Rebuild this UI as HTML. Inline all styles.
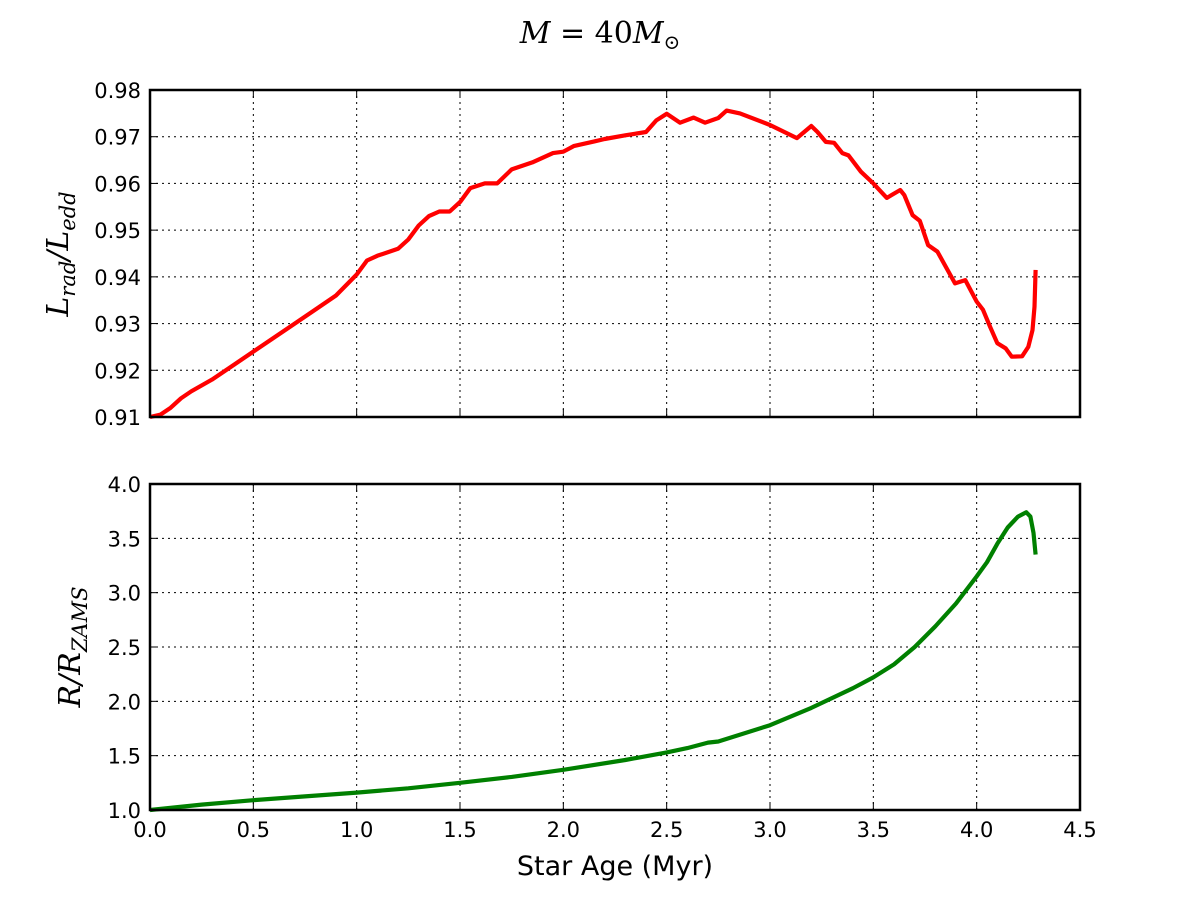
<!DOCTYPE html>
<html><head><meta charset="utf-8"><style>
body{margin:0;background:#fff}
svg text{font-family:"DejaVu Sans","Liberation Sans",sans-serif}
.m{font-family:"DejaVu Serif","Liberation Serif",serif;font-style:italic}
</style></head><body>
<svg id="c" width="1200" height="900"></svg>
<script>
const topAge=[0,0.05,0.1,0.15,0.2,0.3,0.4,0.5,0.6,0.7,0.8,0.9,1.0,1.05,1.1,1.2,1.25,1.3,1.35,1.4,1.45,1.5,1.55,1.62,1.68,1.75,1.85,1.95,2.0,2.05,2.15,2.2,2.3,2.4,2.45,2.5,2.565,2.63,2.686,2.75,2.79,2.855,3.0,3.13,3.2,3.23,3.27,3.31,3.35,3.38,3.44,3.5,3.565,3.63,3.65,3.69,3.725,3.765,3.81,3.85,3.895,3.945,4.0,4.03,4.065,4.1,4.14,4.17,4.22,4.25,4.27,4.28,4.285];
const topLum=[0.910,0.9105,0.912,0.914,0.9155,0.918,0.921,0.924,0.927,0.930,0.933,0.936,0.9405,0.9435,0.9445,0.946,0.948,0.951,0.953,0.954,0.954,0.956,0.959,0.960,0.960,0.963,0.9645,0.9665,0.9668,0.968,0.969,0.9695,0.9703,0.971,0.9735,0.9749,0.973,0.9741,0.973,0.974,0.9756,0.975,0.9725,0.9697,0.9723,0.971,0.9689,0.9687,0.9665,0.966,0.9625,0.960,0.9569,0.9586,0.9575,0.9532,0.952,0.9468,0.9454,0.9422,0.9386,0.9393,0.9347,0.933,0.9293,0.9258,0.9247,0.9229,0.923,0.925,0.9286,0.9336,0.9415];
const botAge=[0,0.25,0.5,0.75,1.0,1.25,1.5,1.75,2.0,2.3,2.5,2.6,2.7,2.75,3.0,3.2,3.4,3.5,3.6,3.7,3.8,3.9,4.0,4.05,4.1,4.15,4.2,4.24,4.26,4.275,4.285];
const botRad=[1.0,1.05,1.09,1.125,1.16,1.2,1.25,1.305,1.37,1.46,1.53,1.57,1.62,1.63,1.78,1.94,2.12,2.22,2.34,2.5,2.69,2.9,3.15,3.28,3.45,3.6,3.7,3.74,3.7,3.55,3.35];
const xTicks=["0.0","0.5","1.0","1.5","2.0","2.5","3.0","3.5","4.0","4.5"];
const topTicks=["0.91","0.92","0.93","0.94","0.95","0.96","0.97","0.98"];
const botTicks=["1.0","1.5","2.0","2.5","3.0","3.5","4.0"];
const NS="http://www.w3.org/2000/svg",svg=document.getElementById('c');
function el(t,a,p){const e=document.createElementNS(NS,t);for(const k in a)e.setAttribute(k,a[k]);(p||svg).appendChild(e);return e;}
const L=150,R=1080;
const xs=v=>L+(v-0)/4.5*(R-L);
function panel(top,bot,lo,hi,ticks,ax,ay,color,name,showX){
  const ys=v=>bot-(v-lo)/(hi-lo)*(bot-top);
  const g=el('g',{});
  
  xTicks.forEach(t=>{const x=xs(+t);
    const l=el('line',{x1:x,x2:x,y1:top,y2:bot,stroke:'#000','stroke-dasharray':'2,4','stroke-width':1},g);
    
    el('line',{x1:x,x2:x,y1:bot,y2:bot-8,stroke:'#000'},g);el('line',{x1:x,x2:x,y1:top,y2:top+8,stroke:'#000'},g);
    if(showX){const tx=el('text',{x:x,y:bot+27,'font-size':21,'text-anchor':'middle'},g);tx.textContent=t;
      }
  });
  ticks.forEach(t=>{const y=ys(+t);
    const l=el('line',{x1:L,x2:R,y1:y,y2:y,stroke:'#000','stroke-dasharray':'2,4','stroke-width':1},g);
    
    el('line',{x1:L,x2:L+8,y1:y,y2:y,stroke:'#000'},g);el('line',{x1:R,x2:R-8,y1:y,y2:y,stroke:'#000'},g);
    const tx=el('text',{x:L-9,y:y+8,'font-size':21,'text-anchor':'end'},g);tx.textContent=t;
    
  });
  const d=ax.map((a,i)=>(i?'L':'M')+xs(a).toFixed(1)+','+ys(ay[i]).toFixed(1)).join('');
  const p=el('path',{d:d,fill:'none',stroke:color,'stroke-width':4.2,'stroke-linejoin':'round'},g);
  
  const f=el('rect',{x:L,y:top,width:R-L,height:bot-top,fill:'none',stroke:'#000','stroke-width':2.5},g);
  
}
panel(90,417,0.91,0.98,topTicks,topAge,topLum,'#ff0000','luminosity',false);
panel(484,810,1.0,4.0,botTicks,botAge,botRad,'#008000','radius',true);
</script>
<svg width="1200" height="900" style="position:absolute;left:0;top:0">
<text class="m" x="600" y="43" font-size="30" text-anchor="middle">M<tspan font-style="normal"> = </tspan><tspan font-style="normal">40</tspan>M<tspan font-size="20" dy="6" font-style="normal">⊙</tspan></text>
<text class="m" transform="translate(68,254) rotate(-90)" font-size="30" text-anchor="middle">L<tspan font-size="21" dy="7">rad</tspan><tspan dy="-7">/L</tspan><tspan font-size="21" dy="7">edd</tspan></text>
<text class="m" transform="translate(80,647) rotate(-90)" font-size="30" text-anchor="middle">R/R<tspan font-size="21" dy="7">ZAMS</tspan></text>
<text x="615" y="875" font-size="27" text-anchor="middle">Star Age (Myr)</text>
</svg>
</body></html>
